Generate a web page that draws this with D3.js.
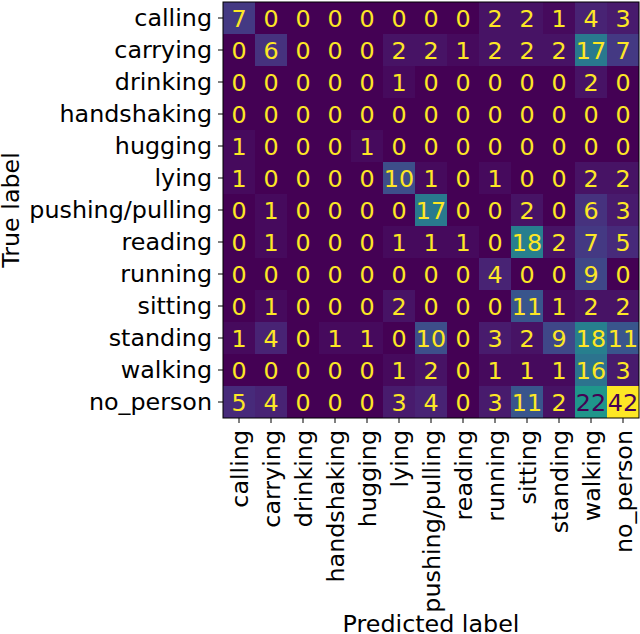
<!DOCTYPE html>
<html lang="en">
<head>
<meta charset="UTF-8" />
<title>Confusion matrix</title>
<style>
  body { margin: 0; background: #fff; }
  svg text { font-family: "DejaVu Sans", sans-serif; }
</style>
</head>
<body>
<svg width="640" height="634"></svg>
<script src="https://d3js.org/d3.v7.min.js"></script>
<script>
var labels = ["calling", "carrying", "drinking", "handshaking", "hugging", "lying",
              "pushing/pulling", "reading", "running", "sitting", "standing", "walking", "no_person"];

var calling      = [7, 0, 0, 0, 0, 0, 0, 0, 2, 2, 1, 4, 3];
var carrying     = [0, 6, 0, 0, 0, 2, 2, 1, 2, 2, 2, 17, 7];
var drinking     = [0, 0, 0, 0, 0, 1, 0, 0, 0, 0, 0, 2, 0];
var handshaking  = [0, 0, 0, 0, 0, 0, 0, 0, 0, 0, 0, 0, 0];
var hugging      = [1, 0, 0, 0, 1, 0, 0, 0, 0, 0, 0, 0, 0];
var lying        = [1, 0, 0, 0, 0, 10, 1, 0, 1, 0, 0, 2, 2];
var pushing      = [0, 1, 0, 0, 0, 0, 17, 0, 0, 2, 0, 6, 3];
var reading      = [0, 1, 0, 0, 0, 1, 1, 1, 0, 18, 2, 7, 5];
var running      = [0, 0, 0, 0, 0, 0, 0, 0, 4, 0, 0, 9, 0];
var sitting      = [0, 1, 0, 0, 0, 2, 0, 0, 0, 11, 1, 2, 2];
var standing     = [1, 4, 0, 1, 1, 0, 10, 0, 3, 2, 9, 18, 11];
var walking      = [0, 0, 0, 0, 0, 1, 2, 0, 1, 1, 1, 16, 3];
var no_person    = [5, 4, 0, 0, 0, 3, 4, 0, 3, 11, 2, 22, 42];

var rows = [calling, carrying, drinking, handshaking, hugging, lying, pushing,
            reading, running, sitting, standing, walking, no_person];

var svg = d3.select("svg");
var fontSize = 23.8;
var mLeft = 223, mRight = 639, mTop = 2, mBottom = 418;

var x = d3.scaleBand().domain(labels).range([mLeft, mRight]);
var y = d3.scaleBand().domain(labels).range([mTop, mBottom]);

var maxVal = d3.max(rows, function(r) { return d3.max(r); });
var color = d3.scaleSequential(d3.interpolateViridis).domain([0, maxVal]);

var cells = [];
rows.forEach(function(r, i) {
  r.forEach(function(v, j) {
    cells.push({ t: labels[i], p: labels[j], v: v });
  });
});

svg.selectAll(".cell")
   .data(cells)
   .enter().append("rect")
   .attr("class", "cell")
   .attr("x", function(d) { return x(d.p); })
   .attr("y", function(d) { return y(d.t); })
   .attr("width", x.bandwidth())
   .attr("height", y.bandwidth())
   .attr("fill", function(d) { return color(d.v); });

// counts: light text on dark cells, dark text past half the max
svg.selectAll(".val")
   .data(cells)
   .enter().append("text")
   .attr("class", "val")
   .attr("x", function(d) { return x(d.p) + x.bandwidth() / 2; })
   .attr("y", function(d) { return y(d.t) + y.bandwidth() / 2; })
   .attr("dy", "0.36em")
   .attr("text-anchor", "middle")
   .style("font-size", fontSize + "px")
   .attr("fill", function(d) { return d.v > maxVal / 2 ? color(0) : color(maxVal); })
   .text(function(d) { return d.v; });

// frame
svg.append("rect")
   .attr("x", mLeft).attr("y", mTop)
   .attr("width", mRight - mLeft).attr("height", mBottom - mTop)
   .attr("fill", "none").attr("stroke", "#000").attr("stroke-width", 1);

// Y axis
var gy = svg.append("g")
   .attr("transform", "translate(" + mLeft + ",0)")
   .call(d3.axisLeft(y).tickSize(5).tickPadding(6));
gy.select(".domain").remove();
gy.selectAll("text").style("font-size", fontSize + "px").attr("fill", "#000");

// X axis
var gx = svg.append("g")
   .attr("transform", "translate(0," + mBottom + ")")
   .call(d3.axisBottom(x).tickSize(5));
gx.select(".domain").remove();
gx.selectAll("text")
   .style("font-size", fontSize + "px")
   .attr("fill", "#000")
   .attr("transform", "rotate(-90)")
   .attr("text-anchor", "end")
   .attr("x", -12)
   .attr("y", 0)
   .attr("dy", "0.36em");

svg.append("text")
   .attr("x", (mLeft + mRight) / 2)
   .attr("y", 632)
   .attr("text-anchor", "middle")
   .style("font-size", fontSize + "px")
   .text("Predicted label");

svg.append("text")
   .attr("transform", "translate(19," + ((mTop + mBottom) / 2) + ") rotate(-90)")
   .attr("text-anchor", "middle")
   .style("font-size", fontSize + "px")
   .text("True label");
</script>
</body>
</html>
